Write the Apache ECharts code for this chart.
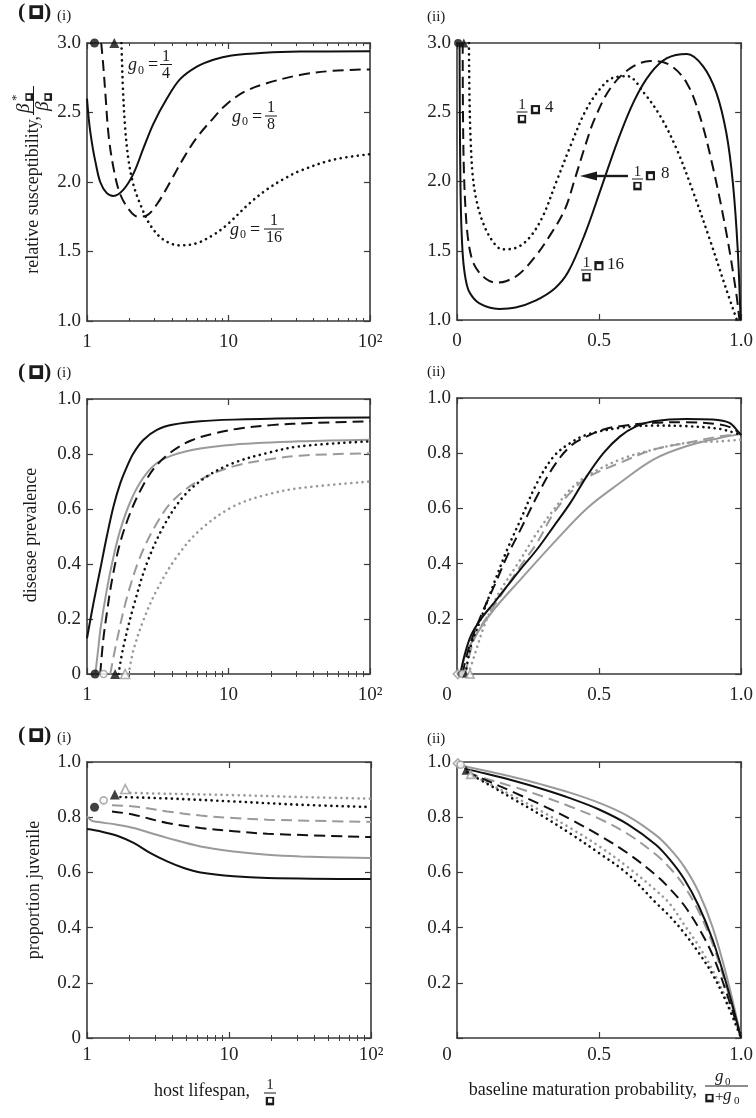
<!DOCTYPE html>
<html><head><meta charset="utf-8">
<script src="https://cdn.jsdelivr.net/npm/echarts@6/dist/echarts.min.js"></script>
<style>html,body{margin:0;padding:0;background:#fff}#c{width:756px;height:1118px}</style>
</head><body><div id="c"></div>
<script>
// ---------- tick labels ----------
const lifespanTicks = [1, 10, 100];
const lifespanTickLabels = ['1', '10', '10²'];
const lifespanMinorTicks = [2,3,4,5,6,7,8,9,20,30,40,50,60,70,80,90];
const matTicks = [0, 0.5, 1];
const matTickLabels = ['0', '0.5', '1.0'];
const suscTicks = [1, 1.5, 2, 2.5, 3];
const suscTickLabels = ['1.0', '1.5', '2.0', '2.5', '3.0'];
const fracTicks = [0, 0.2, 0.4, 0.6, 0.8, 1];
const fracTickLabels = ['0', '0.2', '0.4', '0.6', '0.8', '1.0'];

// ---------- (a)(i) relative susceptibility vs host lifespan ----------
const suscLife_g4 = [[1,2.6],[1.03,2.45],[1.055,2.36],[1.1,2.24],[1.144,2.15],[1.24,2.0],[1.38,1.92],[1.54,1.9],[1.81,1.945],[2.13,2.06],[2.51,2.245],[2.95,2.42],[3.67,2.6],[4.55,2.74],[5.98,2.83],[7.82,2.88],[10.5,2.91],[18,2.93],[32,2.938],[100,2.94]];
const suscLife_g8 = [[1.26,3.0],[1.3,2.85],[1.35,2.63],[1.42,2.34],[1.54,2.1],[1.72,1.91],[2.02,1.79],[2.3,1.75],[2.6,1.755],[3.12,1.84],[3.87,2.0],[4.8,2.17],[5.98,2.32],[7.82,2.46],[9.7,2.56],[13,2.65],[18.6,2.71],[32,2.77],[55,2.8],[100,2.81]];
const suscLife_g16 = [[1.75,3.0],[1.77,2.85],[1.79,2.7],[1.86,2.39],[1.97,2.15],[2.13,1.98],[2.38,1.84],[2.8,1.69],[3.47,1.585],[4.55,1.544],[5.98,1.56],[7.82,1.62],[9.7,1.69],[14.2,1.85],[18.6,1.945],[24.4,2.02],[32,2.08],[55,2.16],[100,2.2]];
const suscLife_circle = [[1.13,3.0]];
const suscLife_triangle = [[1.56,3.0]];

// ---------- (a)(ii) relative susceptibility vs maturation probability ----------
const suscMat_L16 = [[0.009,3.0],[0.01,2.5],[0.012,2.0],[0.015,1.7],[0.021,1.45],[0.03,1.3],[0.044,1.2],[0.079,1.12],[0.148,1.08],[0.206,1.09],[0.276,1.14],[0.345,1.23],[0.392,1.35],[0.45,1.62],[0.507,1.95],[0.565,2.29],[0.623,2.58],[0.681,2.78],[0.739,2.89],[0.809,2.92],[0.867,2.83],[0.913,2.64],[0.948,2.35],[0.971,1.99],[0.988,1.51],[0.998,1.0]];
const suscMat_L8 = [[0.02,3.0],[0.021,2.5],[0.024,2.1],[0.03,1.8],[0.038,1.6],[0.05,1.46],[0.067,1.375],[0.1,1.3],[0.137,1.27],[0.172,1.28],[0.218,1.33],[0.276,1.46],[0.33,1.62],[0.38,1.8],[0.415,2.02],[0.45,2.25],[0.484,2.45],[0.542,2.68],[0.612,2.82],[0.681,2.87],[0.75,2.84],[0.809,2.71],[0.855,2.47],[0.9,2.11],[0.948,1.63],[0.983,1.19],[0.994,1.0]];
const suscMat_L4 = [[0.042,3.0],[0.044,2.6],[0.048,2.3],[0.055,2.05],[0.067,1.88],[0.09,1.71],[0.125,1.57],[0.16,1.51],[0.206,1.52],[0.253,1.59],[0.3,1.74],[0.35,2.0],[0.4,2.26],[0.45,2.5],[0.5,2.66],[0.55,2.75],[0.6,2.76],[0.658,2.64],[0.716,2.47],[0.774,2.23],[0.832,1.92],[0.89,1.58],[0.948,1.22],[0.985,1.0]];
const suscMat_circle = [[0.004,3.0]];
const suscMat_triangle = [[0.024,3.0]];

// ---------- (b)(i) disease prevalence vs host lifespan ----------
const prevLife_blackSolid = [[1,0.13],[1.11,0.257],[1.24,0.38],[1.38,0.5],[1.54,0.61],[1.72,0.694],[1.92,0.755],[2.13,0.803],[2.51,0.852],[3.12,0.888],[4.09,0.907],[6.3,0.919],[10.8,0.925],[30,0.93],[100,0.933]];
const prevLife_blackDashed = [[1.24,0],[1.3,0.12],[1.38,0.22],[1.5,0.34],[1.7,0.47],[2.0,0.58],[2.4,0.67],[3.0,0.75],[4.0,0.81],[5.5,0.85],[8,0.875],[12,0.893],[20,0.905],[40,0.913],[100,0.919]];
const prevLife_blackDotted = [[1.67,0],[1.81,0.1],[2.13,0.245],[2.65,0.403],[3.47,0.536],[4.81,0.646],[7.02,0.718],[10.8,0.767],[18.6,0.803],[32,0.828],[100,0.846]];
const prevLife_graySolid = [[1.145,0],[1.2,0.09],[1.25,0.17],[1.38,0.306],[1.54,0.427],[1.72,0.524],[2.0,0.62],[2.4,0.7],[3.0,0.76],[4.0,0.795],[6.3,0.82],[10.8,0.834],[32,0.846],[100,0.852]];
const prevLife_grayDashed = [[1.46,0],[1.63,0.124],[1.92,0.28],[2.38,0.427],[3.12,0.549],[4.09,0.633],[6.3,0.706],[10.8,0.755],[18.6,0.779],[32,0.794],[100,0.803]];
const prevLife_grayDotted = [[1.97,0],[2.13,0.087],[2.51,0.197],[3.12,0.306],[4.32,0.427],[6.3,0.524],[10.8,0.609],[18.6,0.652],[32,0.676],[100,0.7]];
const prevLife_blackCircle = [[1.14,0]];
const prevLife_grayCircle = [[1.31,0]];
const prevLife_blackTriangle = [[1.58,0]];
const prevLife_grayTriangle = [[1.86,0]];

// ---------- (b)(ii) disease prevalence vs maturation probability ----------
const prevMat_blackSolid = [[0.012,0],[0.026,0.066],[0.049,0.139],[0.084,0.199],[0.131,0.259],[0.177,0.319],[0.224,0.38],[0.282,0.452],[0.341,0.536],[0.399,0.62],[0.457,0.717],[0.516,0.801],[0.574,0.861],[0.632,0.898],[0.691,0.916],[0.807,0.924],[0.9,0.922],[0.959,0.91],[0.99,0.878],[1.0,0.866]];
const prevMat_blackDashed = [[0.02,0],[0.03,0.05],[0.05,0.12],[0.084,0.211],[0.131,0.319],[0.177,0.428],[0.224,0.524],[0.282,0.645],[0.341,0.753],[0.399,0.825],[0.457,0.861],[0.516,0.886],[0.574,0.898],[0.691,0.91],[0.807,0.912],[0.924,0.904],[0.97,0.89],[1.0,0.866]];
const prevMat_blackDotted = [[0.03,0],[0.049,0.102],[0.084,0.2],[0.131,0.331],[0.177,0.452],[0.224,0.56],[0.282,0.693],[0.341,0.789],[0.399,0.837],[0.457,0.867],[0.574,0.892],[0.691,0.9],[0.807,0.898],[0.924,0.888],[1.0,0.866]];
const prevMat_graySolid = [[0.014,0],[0.03,0.07],[0.072,0.15],[0.131,0.235],[0.224,0.343],[0.341,0.476],[0.457,0.6],[0.574,0.693],[0.691,0.777],[0.807,0.825],[0.924,0.855],[1.0,0.87]];
const prevMat_grayDashed = [[0.03,0],[0.061,0.127],[0.131,0.247],[0.224,0.392],[0.282,0.476],[0.341,0.584],[0.399,0.657],[0.457,0.711],[0.574,0.765],[0.691,0.813],[0.807,0.837],[0.924,0.861],[1.0,0.87]];
const prevMat_grayDotted = [[0.04,0],[0.061,0.066],[0.096,0.175],[0.142,0.283],[0.224,0.416],[0.282,0.512],[0.341,0.596],[0.399,0.669],[0.457,0.717],[0.574,0.777],[0.691,0.813],[0.807,0.837],[0.924,0.843],[1.0,0.849]];
const prevMat_grayDiamond = [[0.003,0]];
const prevMat_blackCircle = [[0.012,0]];
const prevMat_grayCircle = [[0.02,0]];
const prevMat_blackTriangle = [[0.03,0]];
const prevMat_grayTriangle = [[0.046,0]];

// ---------- (c)(i) proportion juvenile vs host lifespan ----------
const juvLife_blackSolid = [[1,0.757],[1.24,0.749],[1.63,0.733],[2.13,0.707],[2.8,0.67],[3.67,0.64],[4.81,0.616],[6.3,0.6],[10.8,0.586],[18.6,0.58],[100,0.576]];
const juvLife_graySolid = [[1,0.803],[1.06,0.79],[1.11,0.785],[1.63,0.773],[2.13,0.761],[2.8,0.743],[3.67,0.725],[6.3,0.694],[10.8,0.676],[18.6,0.664],[32,0.658],[100,0.652]];
const juvLife_blackDashed = [[1.5,0.821],[2.13,0.809],[3.67,0.779],[6.3,0.761],[10.8,0.749],[18.6,0.74],[100,0.728]];
const juvLife_grayDashed = [[1.5,0.843],[2.13,0.839],[3.67,0.821],[6.3,0.806],[10.8,0.797],[18.6,0.791],[100,0.783]];
const juvLife_blackDotted = [[1.72,0.873],[3.67,0.868],[10.8,0.857],[32,0.845],[100,0.837]];
const juvLife_grayDotted = [[2.02,0.888],[3.67,0.885],[10.8,0.88],[32,0.873],[100,0.867]];
const juvLife_blackCircle = [[1.13,0.836]];
const juvLife_grayCircle = [[1.31,0.861]];
const juvLife_blackTriangle = [[1.57,0.882]];
const juvLife_grayTriangle = [[1.86,0.902]];

// ---------- (c)(ii) proportion juvenile vs maturation probability ----------
const juvMat_graySolid = [[0.003,0.99],[0.1,0.968],[0.2,0.945],[0.3,0.918],[0.4,0.888],[0.5,0.852],[0.6,0.805],[0.7,0.735],[0.75,0.685],[0.8,0.62],[0.85,0.53],[0.9,0.4],[0.95,0.22],[1,0]];
const juvMat_blackSolid = [[0.026,0.976],[0.1,0.958],[0.2,0.932],[0.3,0.902],[0.4,0.868],[0.5,0.828],[0.6,0.775],[0.7,0.7],[0.75,0.645],[0.8,0.575],[0.85,0.48],[0.9,0.355],[0.95,0.19],[1,0]];
const juvMat_grayDashed = [[0.037,0.96],[0.1,0.94],[0.2,0.91],[0.3,0.876],[0.4,0.838],[0.5,0.795],[0.6,0.74],[0.7,0.665],[0.75,0.615],[0.8,0.55],[0.85,0.46],[0.9,0.34],[0.95,0.18],[1,0]];
const juvMat_blackDashed = [[0.032,0.965],[0.1,0.935],[0.2,0.89],[0.3,0.843],[0.4,0.792],[0.5,0.735],[0.6,0.67],[0.7,0.59],[0.75,0.54],[0.8,0.48],[0.85,0.4],[0.9,0.3],[0.95,0.16],[1,0]];
const juvMat_grayDotted = [[0.05,0.955],[0.1,0.928],[0.2,0.875],[0.3,0.82],[0.4,0.76],[0.5,0.695],[0.6,0.62],[0.7,0.535],[0.75,0.485],[0.8,0.41],[0.85,0.335],[0.9,0.245],[0.95,0.135],[1,0]];
const juvMat_blackDotted = [[0.055,0.95],[0.1,0.925],[0.2,0.865],[0.3,0.805],[0.4,0.74],[0.5,0.67],[0.6,0.595],[0.7,0.49],[0.75,0.44],[0.8,0.38],[0.85,0.31],[0.9,0.23],[0.95,0.125],[1,0]];
const juvMat_grayDiamond = [[0.003,0.995]];
const juvMat_grayCircle = [[0.013,0.99]];
const juvMat_blackTriangle = [[0.032,0.97]];
const juvMat_grayTriangle = [[0.048,0.955]];

// ================= chart building =================
const F = "'Liberation Serif','Times New Roman',serif";
const INK = '#1a1a1a';
const AX = '#3a3a3a';
const BLACK = '#111111';
const GRAY = '#9a9a9a';

function lookup(ticks, labels, v) {
  for (let i = 0; i < ticks.length; i++) if (Math.abs(ticks[i] - v) < 1e-6 * Math.max(1, Math.abs(v))) return labels[i];
  return '';
}
const grids = [
  {left:87, top:43, width:283, height:278},
  {left:457, top:43, width:288, height:277},
  {left:87, top:399, width:283, height:275},
  {left:457, top:398, width:288, height:276},
  {left:87, top:762, width:284, height:276},
  {left:457, top:762, width:288, height:276}
];
const xAxes = [], yAxes = [];
const tickMain = {show:true, inside:true, length:6, lineStyle:{color:AX, width:1.2}};
const tickMinor = {show:true, inside:true, length:3, customValues:lifespanMinorTicks, lineStyle:{color:AX, width:1}};
const lineOn = {show:true, onZero:false, lineStyle:{color:AX, width:1.6}};
function addX(gi, kind, pos, extra) {
  const base = kind === 'log' ? {type:'log', logBase:10, min:1, max:100} : {type:'value', min:0, max:1, interval:0.5};
  xAxes.push(Object.assign({gridIndex:gi, position:pos, splitLine:{show:false}, axisLine:lineOn, axisTick:tickMain, axisLabel:{show:false}}, base, extra || {}));
  return xAxes.length - 1;
}
function addY(gi, pos, min, max, interval, extra) {
  yAxes.push(Object.assign({gridIndex:gi, type:'value', position:pos, min, max, interval, splitLine:{show:false}, axisLine:lineOn, axisTick:tickMain, axisLabel:{show:false}}, extra || {}));
  return yAxes.length - 1;
}
function labelStyle(margin, fmt, rich) {
  const o = {show:true, margin, fontFamily:F, fontSize:19, color:'#222', formatter:fmt};
  if (rich) o.rich = rich;
  return o;
}
function makePanel(gi, kind, yMin, yMax, yInt, yTicks, yLabels, xMargin, hideY0, shiftZero) {
  let xi;
  if (kind === 'log') {
    xi = addX(gi, 'log', 'bottom', {axisLabel: labelStyle(xMargin, v => lookup(lifespanTicks, lifespanTickLabels, v))});
    addX(gi, 'log', 'bottom', {axisLine:{show:false}, axisTick:tickMinor});
    addX(gi, 'log', 'top', {});
    addX(gi, 'log', 'top', {axisLine:{show:false}, axisTick:tickMinor});
  } else {
    const rich = {z:{fontFamily:F, fontSize:19, color:'#222', padding:[0,20,0,0]}};
    xi = addX(gi, 'value', 'bottom', {axisLabel: labelStyle(xMargin, v => {
      const s = lookup(matTicks, matTickLabels, v);
      return (shiftZero && v === 0) ? '{z|' + s + '}' : s;
    }, shiftZero ? rich : null)});
    addX(gi, 'value', 'top', {});
  }
  const yi = addY(gi, 'left', yMin, yMax, yInt, {axisLabel: labelStyle(6, v => (hideY0 && v === 0) ? '' : lookup(yTicks, yLabels, v))});
  addY(gi, 'right', yMin, yMax, yInt, {});
  return {xi, yi};
}
const P = [
  makePanel(0, 'log', 1, 3, 0.5, suscTicks, suscTickLabels, 12, false, false),
  makePanel(1, 'lin', 1, 3, 0.5, suscTicks, suscTickLabels, 12, false, false),
  makePanel(2, 'log', 0, 1, 0.2, fracTicks, fracTickLabels, 12, false, false),
  makePanel(3, 'lin', 0, 1, 0.2, fracTicks, fracTickLabels, 12, true, true),
  makePanel(4, 'log', 0, 1, 0.2, fracTicks, fracTickLabels, 8, false, false),
  makePanel(5, 'lin', 0, 1, 0.2, fracTicks, fracTickLabels, 8, true, true)
];
const series = [];
function line(p, data, color, style) {
  let ls;
  if (style === 'dashed') ls = {type:[11,6], width:2};
  else if (style === 'dotted') ls = {type:[0.1,5.6], width:2.6, cap:'round'};
  else ls = {type:'solid', width:2};
  ls.color = color;
  series.push({type:'line', xAxisIndex:P[p].xi, yAxisIndex:P[p].yi, data, showSymbol:false, symbol:'none', smooth:0.35, lineStyle:ls, silent:true, z:color === GRAY ? 2 : 3});
}
function mark(p, data, symbol, filled, color, size) {
  series.push({type:'scatter', xAxisIndex:P[p].xi, yAxisIndex:P[p].yi, data, symbol, symbolSize:size, clip:false, silent:true, z:6,
    itemStyle: filled ? {color, borderWidth:0} : {color:'#fff', borderColor:color, borderWidth:1.6}});
}
// (a)(i)
line(0, suscLife_g4, BLACK, 'solid'); line(0, suscLife_g8, BLACK, 'dashed'); line(0, suscLife_g16, BLACK, 'dotted');
mark(0, suscLife_circle, 'circle', true, BLACK, 9); mark(0, suscLife_triangle, 'triangle', true, BLACK, 10);
// (a)(ii)
line(1, suscMat_L16, BLACK, 'solid'); line(1, suscMat_L8, BLACK, 'dashed'); line(1, suscMat_L4, BLACK, 'dotted');
mark(1, suscMat_circle, 'circle', true, BLACK, 8); mark(1, suscMat_triangle, 'triangle', true, BLACK, 9);
// (b)(i)
line(2, prevLife_graySolid, GRAY, 'solid'); line(2, prevLife_grayDashed, GRAY, 'dashed'); line(2, prevLife_grayDotted, GRAY, 'dotted');
line(2, prevLife_blackSolid, BLACK, 'solid'); line(2, prevLife_blackDashed, BLACK, 'dashed'); line(2, prevLife_blackDotted, BLACK, 'dotted');
mark(2, prevLife_blackCircle, 'circle', true, BLACK, 9); mark(2, prevLife_grayCircle, 'circle', false, GRAY, 7);
mark(2, prevLife_blackTriangle, 'triangle', true, BLACK, 10); mark(2, prevLife_grayTriangle, 'triangle', false, GRAY, 9);
// (b)(ii)
line(3, prevMat_graySolid, GRAY, 'solid'); line(3, prevMat_grayDashed, GRAY, 'dashed'); line(3, prevMat_grayDotted, GRAY, 'dotted');
line(3, prevMat_blackSolid, BLACK, 'solid'); line(3, prevMat_blackDashed, BLACK, 'dashed'); line(3, prevMat_blackDotted, BLACK, 'dotted');
mark(3, prevMat_grayDiamond, 'diamond', false, GRAY, 9); mark(3, prevMat_blackCircle, 'circle', true, BLACK, 6);
mark(3, prevMat_grayCircle, 'circle', false, GRAY, 7); mark(3, prevMat_blackTriangle, 'triangle', true, BLACK, 7);
mark(3, prevMat_grayTriangle, 'triangle', false, GRAY, 8);
// (c)(i)
line(4, juvLife_graySolid, GRAY, 'solid'); line(4, juvLife_grayDashed, GRAY, 'dashed'); line(4, juvLife_grayDotted, GRAY, 'dotted');
line(4, juvLife_blackSolid, BLACK, 'solid'); line(4, juvLife_blackDashed, BLACK, 'dashed'); line(4, juvLife_blackDotted, BLACK, 'dotted');
mark(4, juvLife_blackCircle, 'circle', true, BLACK, 9); mark(4, juvLife_grayCircle, 'circle', false, GRAY, 7);
mark(4, juvLife_blackTriangle, 'triangle', true, BLACK, 10); mark(4, juvLife_grayTriangle, 'triangle', false, GRAY, 9);
// (c)(ii)
line(5, juvMat_graySolid, GRAY, 'solid'); line(5, juvMat_grayDashed, GRAY, 'dashed'); line(5, juvMat_grayDotted, GRAY, 'dotted');
line(5, juvMat_blackSolid, BLACK, 'solid'); line(5, juvMat_blackDashed, BLACK, 'dashed'); line(5, juvMat_blackDotted, BLACK, 'dotted');
mark(5, juvMat_grayDiamond, 'diamond', false, GRAY, 9); mark(5, juvMat_grayCircle, 'circle', false, GRAY, 7);
mark(5, juvMat_blackTriangle, 'triangle', true, BLACK, 9); mark(5, juvMat_grayTriangle, 'triangle', false, GRAY, 8);

// ---------- annotation text ----------
function T(x, y, s, size, o) {
  return {type:'text', x, y, silent:true, z:100, style:Object.assign({text:s, fontFamily:F, fontSize:size, fill:INK, textAlign:'left', verticalAlign:'middle', textVerticalAlign:'middle'}, o || {})};
}
// missing-glyph box: a black square glyph with a smaller white square glyph on top
function B(x, y, size) {
  const sq = (sz, fill, z) => ({type:'text', x, y, silent:true, z, style:{text:'■', fontFamily:'DejaVu Sans', fontSize:sz, fill, textAlign:'center', verticalAlign:'middle', textVerticalAlign:'middle'}});
  return {type:'group', children:[sq(size, INK, 100), sq(size * 0.5, '#fff', 101)]};
}
function L(x1, y1, x2, y2, w) {
  return {type:'line', silent:true, z:100, shape:{x1, y1, x2, y2}, style:{stroke:INK, lineWidth:w || 1}};
}
function gEq(x, yb, den, cx, hw) {
  return [T(x, yb + 1, 'g', 18, {fontStyle:'italic'}), T(x + 10, yb + 6, '0', 12), T(x + 20, yb + 1, '=', 18),
    T(cx, yb - 8, '1', 16, {textAlign:'center'}), L(cx - hw, yb, cx + hw, yb, 1), T(cx, yb + 9, den, 16, {textAlign:'center'})];
}
function muEq(cx, yb, bx, by, val, vx, vy) {
  return [T(cx, yb - 7, '1', 15, {textAlign:'center'}), L(cx - 5.5, yb, cx + 5.5, yb, 1), B(cx, yb + 7, 11), B(bx, by, 12), T(vx, vy, val, 17)];
}
function tag(y, yi, sub) {
  return [T(18, y, '(', 22, {fontWeight:'bold'}), B(36, y, 18), T(44, y, ')', 22, {fontWeight:'bold'}), T(57, yi, sub, 15)];
}
function rot(el) { el.rotation = Math.PI / 2; return el; }

const graphics = [].concat(
  tag(12, 16, '(i)'), [T(427, 17, '(ii)', 15)],
  tag(372, 373, '(i)'), [T(427, 372, '(ii)', 15)],
  tag(735, 738, '(i)'), [T(427, 739, '(ii)', 15)],
  gEq(128, 64.5, '4', 166, 6), gEq(232, 116, '8', 271, 6), gEq(230, 229, '16', 274, 10),
  muEq(522, 112, 535.5, 109.5, '4', 545, 108),
  muEq(637.5, 179, 650.5, 176, '8', 661, 174),
  muEq(586.5, 270, 599, 266, '16', 607, 265),
  [L(597, 176, 628, 176, 2.4), {type:'polygon', silent:true, z:100, shape:{points:[[580,176],[597,171.5],[597,180.5]]}, style:{fill:INK}}],
  [{type:'group', x:33, y:178, rotation:Math.PI / 2, children:[
    T(62, 0, 'relative susceptibility,', 18, {textAlign:'right'}),
    T(65, -9, 'β', 19, {fontStyle:'italic'}), T(77, -16, '*', 13), B(81, -4, 10),
    L(63, 0.5, 92, 0.5, 1),
    T(67, 10, 'β', 19, {fontStyle:'italic'}), B(81, 15, 10)
  ]}],
  [rot(T(31, 535, 'disease prevalence', 18, {textAlign:'center'})), rot(T(34, 890, 'proportion juvenile', 18, {textAlign:'center'}))],
  [T(250, 1091, 'host lifespan,', 18, {textAlign:'right'}), T(270, 1085, '1', 15, {textAlign:'center'}), L(264, 1093, 276, 1093, 1), B(270, 1101, 11)],
  [T(697, 1090, 'baseline maturation probability,', 18, {textAlign:'right'}),
   T(715, 1077, 'g', 17, {fontStyle:'italic'}), T(725, 1082, '0', 11), L(705, 1086, 748, 1086, 1),
   B(709.5, 1098, 11), T(715, 1097, '+', 15), T(723, 1096, 'g', 17, {fontStyle:'italic'}), T(734, 1101, '0', 11)]
);

const chart = echarts.init(document.getElementById('c'), null, {renderer:'canvas'});
chart.setOption({
  animation:false,
  backgroundColor:'#fff',
  grid:grids,
  xAxis:xAxes,
  yAxis:yAxes,
  series,
  graphic:graphics
});
</script></body></html>
